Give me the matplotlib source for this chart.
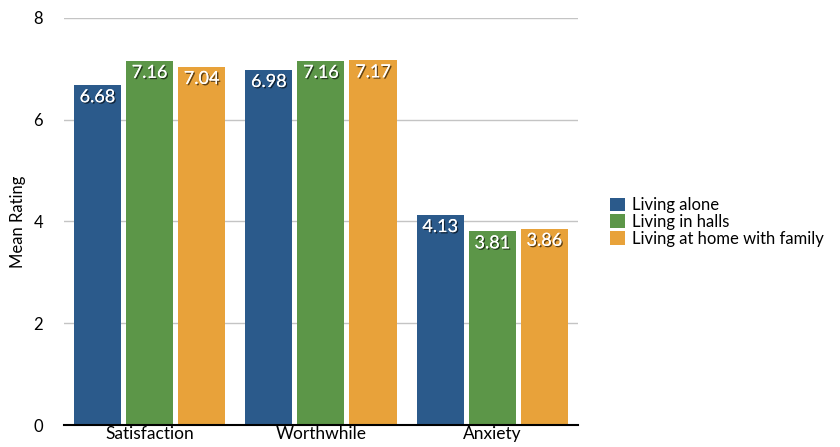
import numpy as np
import matplotlib.pyplot as plt
import matplotlib.patheffects as pe

categories = ['Satisfaction', 'Worthwhile', 'Anxiety']
series = ['Living alone', 'Living in halls', 'Living at home with family']
alone = [6.68, 6.98, 4.13]
halls = [7.16, 7.16, 3.81]
home = [7.04, 7.17, 3.86]
colors = ['#2b5a8b', '#5c9648', '#e8a23a']

plt.rcParams['font.family'] = ['Lato', 'DejaVu Sans']

fig = plt.figure(figsize=(8.4, 4.47), dpi=100)
ax = fig.add_axes([0.076, 0.049, 0.612, 0.911])

x = np.arange(len(categories))
step = 0.304
width = 0.275
shadow = [pe.withSimplePatchShadow(offset=(1, -1), shadow_rgbFace='black', alpha=0.6), pe.Normal()]
for i, (vals, name) in enumerate(zip([alone, halls, home], series)):
    bars = ax.bar(x + (i - 1) * step, vals, width, color=colors[i], label=name, zorder=2)
    for b, v in zip(bars, vals):
        t = ax.annotate(f'{v:.2f}', (b.get_x() + b.get_width() / 2, v), xytext=(0, -3),
                        textcoords='offset points', ha='center', va='top',
                        color='white', fontsize=13)
        t.set_path_effects(shadow)

ax.set_xlim(-0.5, 2.5)
ax.set_ylim(0, 8)
ax.set_yticks([0, 2, 4, 6, 8])
ax.set_xticks(x)
ax.set_xticklabels(categories, fontsize=12.5)
ax.tick_params(axis='y', length=0, pad=15, labelsize=12)
ax.tick_params(axis='x', length=0, pad=1)
ax.yaxis.grid(True, color='#c4c4c4', linewidth=1, zorder=0)
for s in ['top', 'right', 'left']:
    ax.spines[s].set_visible(False)
ax.spines['bottom'].set_linewidth(1.5)
ax.spines['bottom'].set_zorder(3)
ax.set_ylabel('Mean Rating', fontsize=12, labelpad=5)

fig.legend(loc='center left', bbox_to_anchor=(0.718, 0.503), frameon=False,
           fontsize=12, handlelength=0.9, handleheight=0.9, handletextpad=0.45,
           labelspacing=0.05, borderaxespad=0)

fig.savefig('out.png', dpi=100)
